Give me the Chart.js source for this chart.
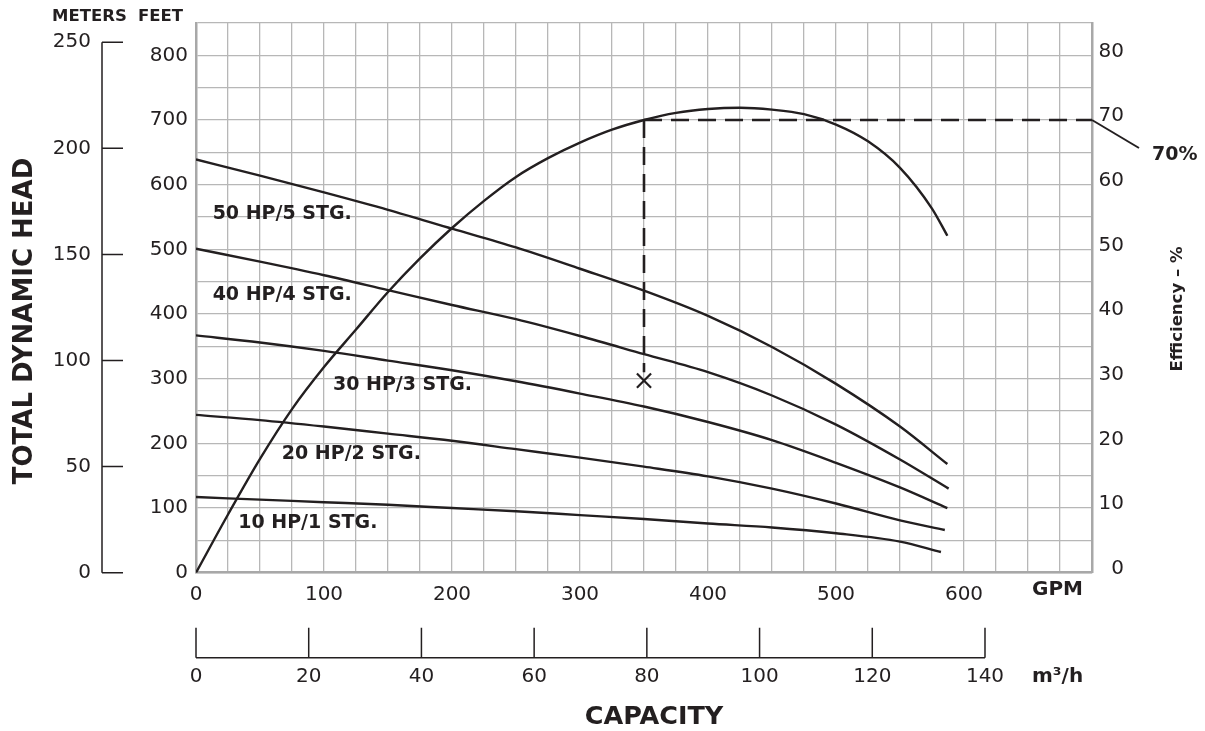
<!DOCTYPE html>
<html lang="en">
<head>
<meta charset="UTF-8">
<title>Pump performance curves</title>
<script src="https://cdn.jsdelivr.net/npm/chart.js@4/dist/chart.umd.min.js"></script>
<style>
  body { margin: 0; background: #fff; }
  canvas { display: block; }
</style>
</head>
<body>
<canvas id="chart" width="1205" height="731"></canvas>
<script>
// head curves: capacity in GPM, head in feet
const q50 = [0, 50, 100, 150, 200, 250, 300, 350, 400, 450, 500, 550, 587];
const h50 = [639, 614, 588, 561, 532, 503, 470, 436, 397, 349, 292, 226, 168];
const q40 = [0, 50, 100, 150, 200, 250, 300, 350, 400, 450, 500, 550, 588];
const h40 = [501, 481, 460, 437, 414, 392, 366, 338, 310, 274, 229, 175, 130];
const q30 = [0, 50, 100, 150, 200, 250, 300, 350, 400, 450, 500, 550, 587];
const h30 = [367, 356, 343, 328, 313, 296, 277, 257, 233, 205, 170, 132, 100];
const q20 = [0, 50, 100, 150, 200, 250, 300, 350, 400, 450, 500, 550, 585];
const h20 = [244, 236, 226, 215, 204, 191, 178, 164, 149, 130, 107, 81, 66];
const q10 = [0, 50, 100, 150, 200, 250, 300, 350, 400, 450, 500, 550, 582];
const h10 = [117, 113, 109, 105, 100, 95, 89, 83, 76, 70, 61, 48, 32];

// efficiency curve (%)
const qEff = [0, 25, 50, 75, 100, 125, 150, 175, 200, 225, 250, 275, 300, 325, 350, 375, 400, 425, 450, 475, 500, 525, 550, 575, 587];
const eff = [0, 9, 17.6, 25.3, 31.8, 37.6, 43.4, 48.6, 53.3, 57.5, 61.2, 64.1, 66.5, 68.5, 70, 71.1, 71.7, 71.9, 71.6, 70.9, 69.3, 66.7, 62.6, 56.3, 52.1];

// duty point
const dutyQ = 350;
const dutyHead = 297;
const dutyEff = 70;

// tick labels
const gpmTicks = [0, 100, 200, 300, 400, 500, 600];
const m3hTicks = [0, 20, 40, 60, 80, 100, 120, 140];
const meterTicks = [0, 50, 100, 150, 200, 250];
const effTicks = [0, 10, 20, 30, 40, 50, 60, 70, 80];

const curveLabels = [
  { text: '50 HP/5 STG.', q: 13, h: 555 },
  { text: '40 HP/4 STG.', q: 13, h: 429 },
  { text: '30 HP/3 STG.', q: 107, h: 290 },
  { text: '20 HP/2 STG.', q: 67, h: 184 },
  { text: '10 HP/1 STG.', q: 33, h: 76 }
];

const FT_PER_M = 3.28084;
const GPM_PER_M3H = 4.40287;
const ink = '#231f20';
const gridGrey = '#b7b7b7';
const frameGrey = '#a8a8a8';
const FONT = '"DejaVu Sans"';

Chart.defaults.font.family = FONT;
Chart.defaults.color = ink;

const pts = (xs, ys) => xs.map((x, i) => ({ x: x, y: ys[i] }));

function headSet(xs, ys) {
  return {
    data: pts(xs, ys),
    borderColor: ink,
    borderWidth: 2.4,
    pointRadius: 0,
    cubicInterpolationMode: 'monotone',
    yAxisID: 'y'
  };
}

const extras = {
  id: 'extras',
  afterDraw(chart) {
    const { ctx, chartArea, scales } = chart;
    const { ym, xm, x, y, yE } = scales;
    ctx.save();
    ctx.strokeStyle = ink;
    ctx.fillStyle = ink;

    // meters axis spine with ticks pointing right
    const spineX = ym.right + 3;
    ctx.lineWidth = 1.5;
    ctx.beginPath();
    ctx.moveTo(spineX, ym.getPixelForValue(250));
    ctx.lineTo(spineX, ym.getPixelForValue(0));
    meterTicks.forEach(v => {
      const py = ym.getPixelForValue(v);
      ctx.moveTo(spineX, py);
      ctx.lineTo(spineX + 21, py);
    });
    ctx.stroke();

    // m3/h axis baseline with ticks pointing up
    const baseY = xm.top + 45;
    ctx.beginPath();
    ctx.moveTo(xm.getPixelForValue(0), baseY);
    ctx.lineTo(xm.getPixelForValue(140), baseY);
    m3hTicks.forEach(v => {
      const px = xm.getPixelForValue(v);
      ctx.moveTo(px, baseY);
      ctx.lineTo(px, baseY - 30);
    });
    ctx.stroke();

    // curve labels
    ctx.font = 'bold 19px ' + FONT;
    ctx.textAlign = 'left';
    ctx.textBaseline = 'middle';
    curveLabels.forEach(l => {
      ctx.fillText(l.text, x.getPixelForValue(l.q), y.getPixelForValue(l.h));
    });

    // 70% callout
    const ey = yE.getPixelForValue(dutyEff);
    ctx.lineWidth = 2;
    ctx.beginPath();
    ctx.moveTo(chartArea.right, ey);
    ctx.lineTo(chartArea.right + 47, ey + 28);
    ctx.stroke();
    ctx.font = 'bold 19px ' + FONT;
    ctx.fillText('70%', chartArea.right + 60, ey + 35);

    // axis unit labels
    ctx.font = 'bold 16.5px ' + FONT;
    ctx.fillText('METERS', 52, 17);
    ctx.fillText('FEET', 138, 17);
    ctx.font = 'bold 20px ' + FONT;
    ctx.fillText('GPM', 1032, 590);
    ctx.fillText('m³/h', 1032, 677);

    ctx.font = 'bold 25.5px ' + FONT;
    ctx.textAlign = 'center';
    ctx.fillText('CAPACITY', 654, 717);

    ctx.save();
    ctx.font = 'bold 26px ' + FONT;
    ctx.translate(25, 321);
    ctx.rotate(-Math.PI / 2);
    ctx.fillText('TOTAL DYNAMIC HEAD', 0, 0);
    ctx.restore();

    ctx.save();
    ctx.font = 'bold 16.5px ' + FONT;
    ctx.translate(1178, 309);
    ctx.rotate(-Math.PI / 2);
    ctx.fillText('Efficiency – %', 0, 0);
    ctx.restore();

    ctx.restore();
  }
};

new Chart(document.getElementById('chart'), {
  type: 'line',
  data: {
    datasets: [
      headSet(q50, h50),
      headSet(q40, h40),
      headSet(q30, h30),
      headSet(q20, h20),
      headSet(q10, h10),
      {
        data: pts(qEff, eff),
        borderColor: ink,
        borderWidth: 2.4,
        pointRadius: 0,
        cubicInterpolationMode: 'monotone',
        yAxisID: 'yE'
      },
      {
        // vertical drop from the 70% point to the duty point
        data: [{ x: dutyQ, y: dutyEff * 10 }, { x: dutyQ, y: dutyHead + 13 }],
        borderColor: ink,
        borderWidth: 2.6,
        borderDash: [18, 9],
        pointRadius: 0,
        yAxisID: 'y'
      },
      {
        data: [{ x: dutyQ, y: dutyEff }, { x: 700, y: dutyEff }],
        borderColor: ink,
        borderWidth: 2.6,
        borderDash: [18, 9],
        pointRadius: 0,
        yAxisID: 'yE'
      },
      {
        data: [{ x: dutyQ, y: dutyHead }],
        showLine: false,
        pointStyle: 'crossRot',
        pointRadius: 10,
        borderColor: ink,
        borderWidth: 2.2,
        yAxisID: 'y'
      }
    ]
  },
  options: {
    responsive: false,
    animation: false,
    devicePixelRatio: 1,
    layout: { padding: { top: 23, right: 81, bottom: 0, left: 0 } },
    plugins: { legend: { display: false }, tooltip: { enabled: false } },
    scales: {
      x: {
        type: 'linear', position: 'bottom', min: 0, max: 700, weight: 0,
        ticks: { display: false, stepSize: 25 },
        grid: { color: gridGrey, lineWidth: 1.3, drawTicks: false },
        border: { color: frameGrey, width: 2.5 },
        afterFit: s => { s.height = 0; }
      },
      xg: {
        type: 'linear', position: 'bottom', min: 0, max: 700, weight: 1,
        afterBuildTicks: s => { s.ticks = gpmTicks.map(v => ({ value: v })); },
        ticks: { font: { size: 20 }, padding: 10, maxRotation: 0, autoSkip: false },
        grid: { display: false, drawTicks: false },
        border: { display: false },
        afterFit: s => { s.height = 40; }
      },
      xm: {
        type: 'linear', position: 'bottom', min: 0, max: 700 / GPM_PER_M3H, weight: 2,
        afterBuildTicks: s => { s.ticks = m3hTicks.map(v => ({ value: v })); },
        ticks: { font: { size: 20 }, padding: 52, maxRotation: 0, autoSkip: false },
        grid: { display: false, drawTicks: false },
        border: { display: false },
        afterFit: s => { s.height = 118.3; }
      },
      y: {
        type: 'linear', position: 'left', min: 0, max: 850, weight: 0,
        ticks: {
          stepSize: 50, autoSkip: false, font: { size: 20 }, padding: 8,
          callback: v => (v % 100 === 0 ? v : '')
        },
        grid: { color: gridGrey, lineWidth: 1.3, drawTicks: false },
        border: { color: frameGrey, width: 2.5 },
        afterFit: s => { s.width = 97; }
      },
      ym: {
        type: 'linear', position: 'left', min: 0, max: 850 / FT_PER_M, weight: 1,
        afterBuildTicks: s => { s.ticks = meterTicks.map(v => ({ value: v })); },
        ticks: { font: { size: 20 }, padding: 8, autoSkip: false },
        grid: { display: false, drawTicks: false },
        border: { display: false },
        afterFit: s => { s.width = 99; }
      },
      yE: {
        type: 'linear', position: 'right', min: 0, max: 85,
        afterBuildTicks: s => { s.ticks = effTicks.map(v => ({ value: v })); },
        ticks: { font: { size: 20 }, padding: 8, crossAlign: 'far', labelOffset: -4, autoSkip: false },
        grid: { display: false, drawTicks: false },
        border: { color: frameGrey, width: 2.5 },
        afterFit: s => { s.width = 32; }
      }
    }
  },
  plugins: [extras]
});
</script>
</body>
</html>
